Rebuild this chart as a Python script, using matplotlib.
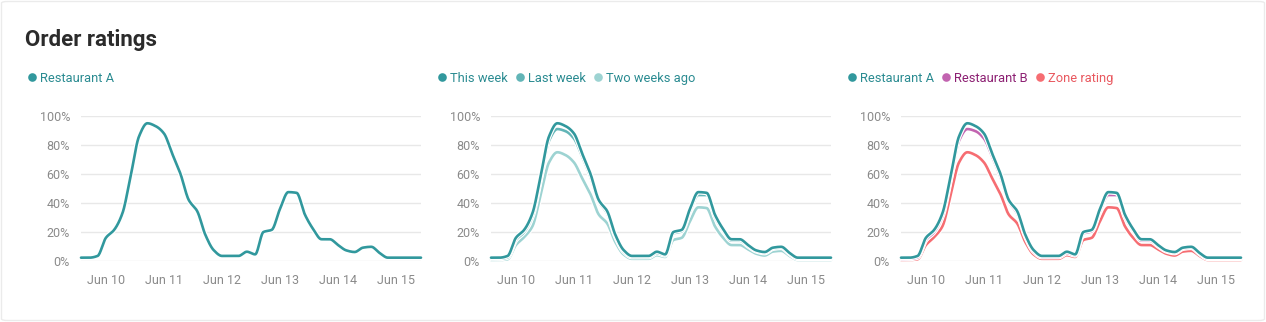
import numpy as np
import matplotlib.pyplot as plt
import matplotlib.lines as mlines
import matplotlib.patheffects as pe
from matplotlib.patches import FancyBboxPatch

plt.rcParams['font.family'] = ['Roboto', 'DejaVu Sans']

# samples every ~3.4 h, x in days from Jun 10 00:00
t_start, t_step, n_pts = -0.43, 0.143, 42
day_ticks = [0, 1, 2, 3, 4, 5]
day_labels = ["Jun 10", "Jun 11", "Jun 12", "Jun 13", "Jun 14", "Jun 15"]
y_ticks = [0, 20, 40, 60, 80, 100]

this_week = [2.3, 2.3, 3.5, 16, 21.5, 33, 59, 86, 95, 93, 88, 74, 60, 42, 34.5, 18,
             7.5, 3.5, 3.5, 3.5, 6.4, 4.6, 20, 21.5, 36, 47.5, 47, 32, 22, 15, 15, 11,
             7.3, 6.2, 9.2, 9.8, 5.6, 2.3, 2.3, 2.3, 2.3, 2.3]
last_week = [1.5, 1.5, 2.5, 14.5, 20, 31, 57, 83, 91, 89.5, 84.5, 72, 58, 41, 33, 17,
             6.5, 2.8, 2.8, 2.8, 5.5, 4, 19, 20.5, 34.5, 45.5, 45.5, 30.5, 21, 14, 14, 10.3,
             6.8, 5.6, 8.6, 9.2, 5, 1.6, 1.6, 1.6, 1.6, 1.6]
two_weeks = [0.7, 0.7, 1.2, 11, 16.5, 24, 46, 68, 75, 73, 68, 57, 46, 32, 26, 13,
             4.5, 1.5, 1.5, 1.5, 4, 2.8, 14.5, 16, 27.5, 37, 36.5, 24, 16, 11, 11, 8,
             5, 3.8, 6.5, 7, 3.5, 0.7, 0.7, 0.7, 0.7, 0.7]

restaurant_a = this_week
restaurant_b = last_week
zone_rating = two_weeks

TEAL = "#31989d"
TEAL_MID = "#62b5b7"
TEAL_LIGHT = "#9dd3d2"
PURPLE = "#c264b0"
CORAL = "#f66d72"


def monotone(x, y, per=16):
    # monotone cubic (Fritsch-Carlson) for a smooth curve through the samples
    x = np.asarray(x, float)
    y = np.asarray(y, float)
    h = np.diff(x)
    d = np.diff(y) / h
    m = np.zeros_like(y)
    m[0], m[-1] = d[0], d[-1]
    for i in range(1, len(y) - 1):
        if d[i - 1] * d[i] <= 0:
            m[i] = 0
        else:
            w1 = 2 * h[i] + h[i - 1]
            w2 = h[i] + 2 * h[i - 1]
            m[i] = (w1 + w2) / (w1 / d[i - 1] + w2 / d[i])
    xs, ys = [], []
    for i in range(len(x) - 1):
        s = np.linspace(0, 1, per, endpoint=False)
        h00 = 2 * s**3 - 3 * s**2 + 1
        h10 = s**3 - 2 * s**2 + s
        h01 = -2 * s**3 + 3 * s**2
        h11 = s**3 - s**2
        xs.append(x[i] + s * h[i])
        ys.append(h00 * y[i] + h10 * h[i] * m[i] + h01 * y[i + 1] + h11 * h[i] * m[i + 1])
    xs.append([x[-1]])
    ys.append([y[-1]])
    return np.concatenate(xs), np.concatenate(ys)


W, H = 1266, 322
fig = plt.figure(figsize=(W / 100, H / 100), dpi=100)
fig.patch.set_facecolor("white")

card = FancyBboxPatch((1.5 / W, 1.5 / H), (W - 3) / W, (H - 3) / H,
                      boxstyle="round,pad=0,rounding_size=0.005",
                      transform=fig.transFigure, facecolor="white",
                      edgecolor="#ebebeb", linewidth=1, zorder=-10)
fig.add_artist(card)

fig.text(25 / W, 1 - 40 / H, "Order ratings", fontsize=16, fontweight="bold",
         color="#2b2b2b", va="center", ha="left")

t = t_start + t_step * np.arange(n_pts)

panels = [
    (81, [("Restaurant A", restaurant_a, TEAL, "#2a8b91")]),
    (491, [("This week", this_week, TEAL, "#2a8b91"),
           ("Last week", last_week, TEAL_MID, "#2a8b91"),
           ("Two weeks ago", two_weeks, TEAL_LIGHT, "#2a8b91")]),
    (901, [("Restaurant A", restaurant_a, TEAL, "#2a8b91"),
           ("Restaurant B", restaurant_b, PURPLE, "#8c1f72"),
           ("Zone rating", zone_rating, CORAL, "#e9585f")]),
]

fig.canvas.draw()
renderer = fig.canvas.get_renderer()

for left, series in panels:
    ax = fig.add_axes([left / W, 61 / H, 340 / W, 145 / H])
    ax.set_facecolor("none")
    for i, (name, vals, col, _) in enumerate(reversed(series)):
        xs, ys = monotone(t, vals)
        ax.plot(xs, ys, color=col, lw=1.9, clip_on=False, zorder=3 + i,
                solid_capstyle="round", solid_joinstyle="round",
                path_effects=[pe.Stroke(linewidth=3.6, foreground="white"), pe.Normal()])
    ax.set_xlim(t[0], t[-1])
    ax.set_ylim(0, 100)
    ax.set_yticks(y_ticks)
    ax.set_yticklabels([f"{v}%" for v in y_ticks])
    ax.set_xticks(day_ticks)
    ax.set_xticklabels(day_labels)
    ax.grid(axis="y", color="#e8e8e8", lw=1, zorder=0)
    ax.set_axisbelow(True)
    for s in ax.spines.values():
        s.set_visible(False)
    ax.tick_params(length=0, labelsize=9, labelcolor="#8a8a8a")
    ax.tick_params(axis="y", pad=8)
    ax.tick_params(axis="x", pad=9)

    # legend row above the panel
    x = left - 49
    y = 1 - 77 / H
    for name, vals, col, tcol in series:
        fig.add_artist(mlines.Line2D([x / W], [y], marker="o", markersize=6.2,
                                     color=col, markeredgewidth=0,
                                     transform=fig.transFigure))
        txt = fig.text((x + 8) / W, y, name, fontsize=9.3, color=tcol,
                       va="center_baseline", ha="left")
        wpx = txt.get_window_extent(renderer).width
        x += 8 + wpx + 12

fig.savefig("out.png", dpi=100, facecolor="white")
